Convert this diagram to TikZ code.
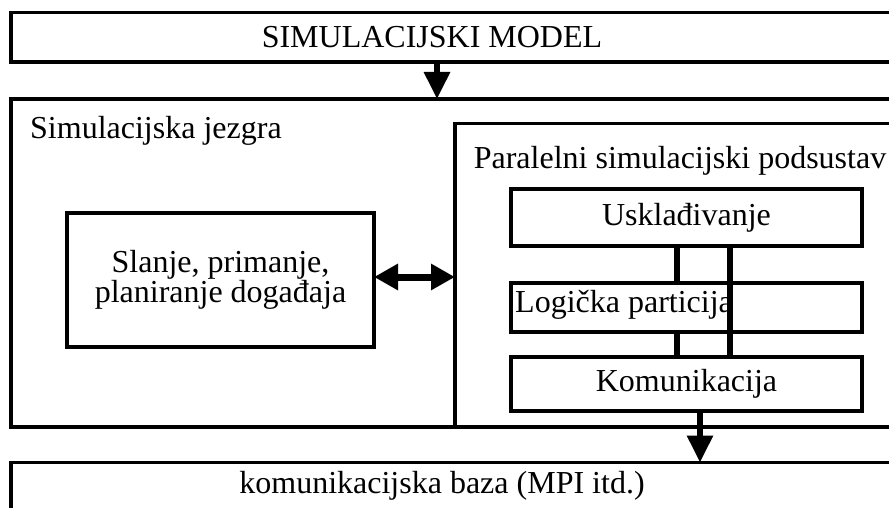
\documentclass[tikz,border=0pt]{standalone}
\usepackage{fontspec}
\setmainfont{Liberation Serif}
\usetikzlibrary{arrows.meta}

\tikzset{
	box/.style={draw, line width=3.2pt, inner sep=0pt, outer sep=0pt, anchor=north west, align=center},
	txt/.style={inner sep=0pt},
	link/.style={line width=6pt},
	bigarrow/.style={line width=6pt, -{Triangle[length=27pt,width=25pt]}},
	dblarrow/.style={line width=7pt, {Triangle[length=24pt,width=25pt]}-{Triangle[length=24pt,width=25pt]}}
}

\begin{document}
\begin{tikzpicture}[x=1pt, y=-1pt, font=\fontsize{32}{28.5}\selectfont]
	\clip (0,0) rectangle (889,508);
	\fill[white] (0,0) rectangle (889,508);
	% outer layers
	\node[box, minimum width=900, minimum height=49.5] (model) at (11,12.5) {};
	\node[box, minimum width=900, minimum height=328] (jezgra) at (11,99) {};
	\node[box, minimum width=500, minimum height=303.5] (podsustav) at (455,123.5) {};
	\node[box, minimum width=900, minimum height=100] (baza) at (11,462.5) {};
	% inner boxes
	\node[box, minimum width=307, minimum height=134] (slanje) at (67,213) {Slanje, primanje,\\planiranje događaja};
	\node[box, minimum width=351, minimum height=57] (uskl) at (511,189) {Usklađivanje};
	\node[box, minimum width=351, minimum height=49] (particija) at (511,283) {};
	\node[box, minimum width=351, minimum height=54] (komun) at (511,357) {Komunikacija};
	% texts
	\node[txt, anchor=base] (modeltxt) at (432,48) {SIMULACIJSKI MODEL};
	\node[txt, anchor=base west] (jezgratxt) at (30,139) {Simulacijska jezgra};
	\node[txt, anchor=base] (podsustavtxt) at (680,168) {Paralelni simulacijski podsustav};
	\node[txt, anchor=base west] (particijatxt) at (515,312) {Logička particija};
	\node[txt, anchor=base] (bazatxt) at (442,493) {komunikacijska baza (MPI itd.)};
	% links
	\coordinate (v1) at (677,0);
	\coordinate (v2) at (730,0);
	\coordinate (a1) at (437,0);
	\coordinate (a2) at (700,0);
	\draw[link] (uskl.south -| v1) -- (particija.north -| v1);
	\draw[link] (particija.south -| v1) -- (komun.north -| v1);
	\draw[link] (uskl.south -| v2) -- (komun.north -| v2);
	\draw[bigarrow] (model.south -| a1) -- (jezgra.north -| a1);
	\draw[bigarrow] (komun.south -| a2) -- (baza.north -| a2);
	\draw[dblarrow] (slanje.east |- 0,277) -- (podsustav.west |- 0,277);
\end{tikzpicture}
\end{document}
